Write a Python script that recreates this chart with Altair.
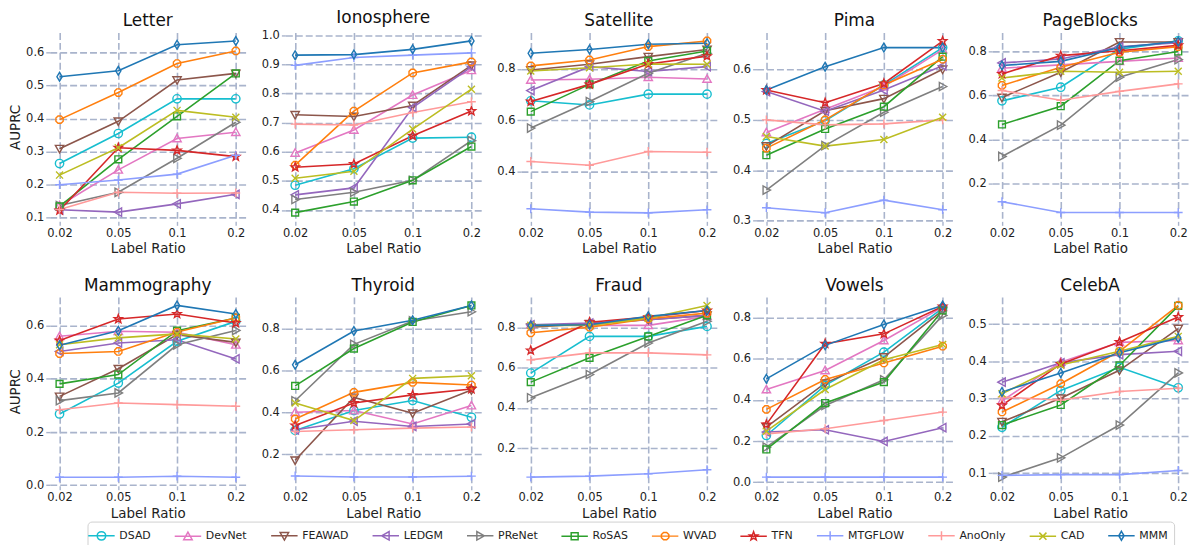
import math
import altair as alt
import pandas as pd

ratios = ["0.02", "0.05", "0.1", "0.2"]
methods = ["DSAD", "DevNet", "FEAWAD", "LEDGM", "PReNet", "RoSAS",
           "WVAD", "TFN", "MTGFLOW", "AnoOnly", "CAD", "MMM"]
colors = ["#17becf", "#e377c2", "#8c564b", "#9467bd", "#7f7f7f", "#2ca02c",
          "#ff7f0e", "#d62728", "#8c9eff", "#ff9a9a", "#bcbd22", "#1f77b4"]
datasets = ["Letter", "Ionosphere", "Satellite", "Pima", "PageBlocks",
            "Mammography", "Thyroid", "Fraud", "Vowels", "CelebA"]

letter = {
    "DSAD": [0.264, 0.355, 0.460, 0.460], "DevNet": [0.137, 0.245, 0.340, 0.359],
    "FEAWAD": [0.309, 0.392, 0.517, 0.537], "LEDGM": [0.124, 0.117, 0.142, 0.171],
    "PReNet": [0.137, 0.177, 0.280, 0.389], "RoSAS": [0.134, 0.277, 0.407, 0.537],
    "WVAD": [0.397, 0.479, 0.567, 0.605], "TFN": [0.122, 0.312, 0.304, 0.285],
    "MTGFLOW": [0.200, 0.214, 0.232, 0.289], "AnoOnly": [0.125, 0.177, 0.174, 0.175],
    "CAD": [0.229, 0.312, 0.425, 0.404], "MMM": [0.527, 0.545, 0.624, 0.635],
}
ionosphere = {
    "DSAD": [0.485, 0.542, 0.647, 0.650], "DevNet": [0.596, 0.675, 0.795, 0.880],
    "FEAWAD": [0.727, 0.721, 0.759, 0.897], "LEDGM": [0.452, 0.476, 0.752, 0.892],
    "PReNet": [0.436, 0.461, 0.502, 0.638], "RoSAS": [0.391, 0.429, 0.502, 0.618],
    "WVAD": [0.554, 0.740, 0.871, 0.909], "TFN": [0.547, 0.558, 0.655, 0.740],
    "MTGFLOW": [0.897, 0.924, 0.932, 0.940], "AnoOnly": [0.695, 0.692, 0.735, 0.772],
    "CAD": [0.509, 0.533, 0.678, 0.815], "MMM": [0.932, 0.934, 0.952, 0.981],
}
satellite = {
    "DSAD": [0.676, 0.660, 0.702, 0.702], "DevNet": [0.757, 0.760, 0.768, 0.761],
    "FEAWAD": [0.796, 0.818, 0.848, 0.876], "LEDGM": [0.716, 0.809, 0.790, 0.809],
    "PReNet": [0.570, 0.673, 0.783, 0.861], "RoSAS": [0.634, 0.740, 0.831, 0.870],
    "WVAD": [0.812, 0.835, 0.887, 0.909], "TFN": [0.673, 0.740, 0.819, 0.850],
    "MTGFLOW": [0.256, 0.243, 0.240, 0.252], "AnoOnly": [0.440, 0.425, 0.479, 0.476],
    "CAD": [0.792, 0.805, 0.819, 0.818], "MMM": [0.861, 0.876, 0.896, 0.900],
}
pima = {
    "DSAD": [0.453, 0.498, 0.569, 0.643], "DevNet": [0.475, 0.521, 0.566, 0.639],
    "FEAWAD": [0.448, 0.518, 0.542, 0.600], "LEDGM": [0.556, 0.517, 0.559, 0.607],
    "PReNet": [0.361, 0.449, 0.515, 0.566], "RoSAS": [0.430, 0.482, 0.526, 0.625],
    "WVAD": [0.444, 0.500, 0.569, 0.620], "TFN": [0.559, 0.534, 0.572, 0.656],
    "MTGFLOW": [0.326, 0.316, 0.341, 0.322], "AnoOnly": [0.500, 0.490, 0.492, 0.500],
    "CAD": [0.467, 0.448, 0.461, 0.505], "MMM": [0.559, 0.605, 0.643, 0.643],
}
pageblocks = {
    "DSAD": [0.576, 0.638, 0.810, 0.848], "DevNet": [0.724, 0.739, 0.755, 0.770],
    "FEAWAD": [0.591, 0.706, 0.843, 0.843], "LEDGM": [0.748, 0.766, 0.821, 0.840],
    "PReNet": [0.324, 0.466, 0.683, 0.763], "RoSAS": [0.469, 0.552, 0.758, 0.800],
    "WVAD": [0.646, 0.728, 0.796, 0.822], "TFN": [0.698, 0.781, 0.803, 0.828],
    "MTGFLOW": [0.119, 0.070, 0.070, 0.070], "AnoOnly": [0.623, 0.579, 0.619, 0.653],
    "CAD": [0.680, 0.710, 0.706, 0.710], "MMM": [0.736, 0.755, 0.818, 0.845],
}
mammography = {
    "DSAD": [0.268, 0.384, 0.541, 0.616], "DevNet": [0.560, 0.579, 0.575, 0.528],
    "FEAWAD": [0.334, 0.438, 0.566, 0.537], "LEDGM": [0.503, 0.535, 0.547, 0.475],
    "PReNet": [0.318, 0.347, 0.528, 0.582], "RoSAS": [0.381, 0.416, 0.581, 0.629],
    "WVAD": [0.495, 0.503, 0.576, 0.629], "TFN": [0.544, 0.625, 0.644, 0.610],
    "MTGFLOW": [0.030, 0.030, 0.034, 0.030], "AnoOnly": [0.284, 0.309, 0.303, 0.297],
    "CAD": [0.528, 0.554, 0.569, 0.550], "MMM": [0.526, 0.581, 0.676, 0.644],
}
thyroid = {
    "DSAD": [0.313, 0.408, 0.456, 0.376], "DevNet": [0.400, 0.408, 0.344, 0.432],
    "FEAWAD": [0.170, 0.471, 0.395, 0.506], "LEDGM": [0.316, 0.357, 0.332, 0.344],
    "PReNet": [0.455, 0.725, 0.837, 0.881], "RoSAS": [0.526, 0.705, 0.832, 0.911],
    "WVAD": [0.368, 0.495, 0.543, 0.530], "TFN": [0.337, 0.444, 0.483, 0.511],
    "MTGFLOW": [0.095, 0.090, 0.090, 0.094], "AnoOnly": [0.308, 0.316, 0.324, 0.329],
    "CAD": [0.444, 0.360, 0.562, 0.575], "MMM": [0.627, 0.789, 0.840, 0.911],
}
fraud = {
    "DSAD": [0.574, 0.757, 0.757, 0.807], "DevNet": [0.815, 0.812, 0.812, 0.857],
    "FEAWAD": [0.803, 0.820, 0.840, 0.862], "LEDGM": [0.815, 0.823, 0.840, 0.862],
    "PReNet": [0.451, 0.567, 0.724, 0.832], "RoSAS": [0.529, 0.650, 0.757, 0.862],
    "WVAD": [0.775, 0.803, 0.845, 0.873], "TFN": [0.687, 0.828, 0.853, 0.886],
    "MTGFLOW": [0.055, 0.060, 0.072, 0.092], "AnoOnly": [0.640, 0.675, 0.675, 0.665],
    "CAD": [0.812, 0.812, 0.848, 0.911], "MMM": [0.812, 0.815, 0.857, 0.886],
}
vowels = {
    "DSAD": [0.227, 0.471, 0.633, 0.847], "DevNet": [0.451, 0.544, 0.690, 0.852],
    "FEAWAD": [0.268, 0.482, 0.609, 0.836], "LEDGM": [0.244, 0.255, 0.198, 0.265],
    "PReNet": [0.170, 0.373, 0.498, 0.812], "RoSAS": [0.159, 0.385, 0.487, 0.836],
    "WVAD": [0.354, 0.500, 0.580, 0.662], "TFN": [0.281, 0.674, 0.722, 0.855],
    "MTGFLOW": [0.024, 0.024, 0.024, 0.024], "AnoOnly": [0.235, 0.260, 0.300, 0.341],
    "CAD": [0.248, 0.451, 0.596, 0.670], "MMM": [0.503, 0.666, 0.768, 0.860],
}
celeba = {
    "DSAD": [0.223, 0.322, 0.384, 0.329], "DevNet": [0.294, 0.398, 0.451, 0.456],
    "FEAWAD": [0.238, 0.301, 0.376, 0.488], "LEDGM": [0.344, 0.396, 0.418, 0.427],
    "PReNet": [0.089, 0.141, 0.229, 0.369], "RoSAS": [0.229, 0.283, 0.389, 0.549],
    "WVAD": [0.264, 0.340, 0.427, 0.550], "TFN": [0.282, 0.393, 0.452, 0.519],
    "MTGFLOW": [0.094, 0.096, 0.096, 0.107], "AnoOnly": [0.304, 0.296, 0.319, 0.328],
    "CAD": [0.313, 0.390, 0.427, 0.467], "MMM": [0.318, 0.369, 0.423, 0.463],
}

panel_data = [letter, ionosphere, satellite, pima, pageblocks,
              mammography, thyroid, fraud, vowels, celeba]

y_domains = [[0.089, 0.661], [0.361, 1.010], [0.207, 0.942], [0.299, 0.673], [0.030, 0.886],
             [-0.002, 0.708], [0.048, 0.952], [0.012, 0.954], [-0.018, 0.902], [0.066, 0.573]]
y_ticks = [[0.1, 0.2, 0.3, 0.4, 0.5, 0.6], [0.4, 0.5, 0.6, 0.7, 0.8, 0.9, 1.0],
           [0.4, 0.6, 0.8], [0.3, 0.4, 0.5, 0.6], [0.2, 0.4, 0.6, 0.8],
           [0.0, 0.2, 0.4, 0.6], [0.2, 0.4, 0.6, 0.8], [0.2, 0.4, 0.6, 0.8],
           [0.0, 0.2, 0.4, 0.6, 0.8], [0.1, 0.2, 0.3, 0.4, 0.5]]

# ---- marker shapes (unit coordinates) ----
def poly(pts, s=1.0):
    return "M" + "L".join(f"{x * s:.3f},{y * s:.3f}" for x, y in pts) + "Z"

def circ(r):
    return f"M{r:.3f},0A{r:.3f},{r:.3f} 0 1,1 {-r:.3f},0A{r:.3f},{r:.3f} 0 1,1 {r:.3f},0Z"

star_pts = [((1.0 if k % 2 == 0 else 0.42) * math.cos(math.radians(-90 + 36 * k)),
             (1.0 if k % 2 == 0 else 0.42) * math.sin(math.radians(-90 + 36 * k))) for k in range(10)]
oct_pts = [(0.9 * math.cos(math.radians(22.5 + 45 * k)),
            0.9 * math.sin(math.radians(22.5 + 45 * k))) for k in range(8)]

def shape_path(m, s):
    if m == "DSAD":
        return circ(0.95 * s)
    if m == "DevNet":
        return poly([(0, -0.95), (0.95, 0.75), (-0.95, 0.75)], s)
    if m == "FEAWAD":
        return poly([(0, 0.95), (0.95, -0.75), (-0.95, -0.75)], s)
    if m == "LEDGM":
        return poly([(-0.95, 0), (0.75, -0.95), (0.75, 0.95)], s)
    if m == "PReNet":
        return poly([(0.95, 0), (-0.75, -0.95), (-0.75, 0.95)], s)
    if m == "RoSAS":
        return poly([(-0.78, -0.78), (0.78, -0.78), (0.78, 0.78), (-0.78, 0.78)], s)
    if m == "WVAD":
        return poly(oct_pts, s)
    if m == "TFN":
        return poly(star_pts, s)
    if m in ("MTGFLOW", "AnoOnly"):
        return f"M{-s},0L{s},0M0,{-s}L0,{s}"
    if m == "CAD":
        a = 0.8 * s
        return f"M{-a},{-a}L{a},{a}M{a},{-a}L{-a},{a}"
    return poly([(0, -1.0), (0.6, 0), (0, 1.0), (-0.6, 0)], s)

main_shapes = [shape_path(m, 1.0) for m in methods]
legend_shapes = ["M-1.9,0L1.9,0" + shape_path(m, 0.64) for m in methods]

FONT = "DejaVu Sans"
PW, PH = 197, 190


def panel(i):
    d = panel_data[i]
    df = pd.DataFrame([
        {"ratio": r, "method": m, "value": v}
        for m in methods for r, v in zip(ratios, d[m])
    ])
    first_col = i % 5 == 0
    x = alt.X("ratio:O", sort=ratios,
              scale=alt.Scale(type="point", padding=1 / 6),
              axis=alt.Axis(title="Label Ratio", labelAngle=0))
    y = alt.Y("value:Q",
              scale=alt.Scale(domain=y_domains[i], nice=False, zero=False),
              axis=alt.Axis(values=y_ticks[i], format=".1f",
                            title="AUPRC" if first_col else None))
    color = alt.Color("method:N", scale=alt.Scale(domain=methods, range=colors), legend=None)
    shape = alt.Shape("method:N", scale=alt.Scale(domain=methods, range=main_shapes), legend=None)
    base = alt.Chart(df)
    lines = base.mark_line(strokeWidth=1.6).encode(x=x, y=y, color=color)
    pts = base.mark_point(filled=False, size=78, strokeWidth=1.4, opacity=1).encode(
        x=x, y=y, color=color, shape=shape)
    return alt.layer(lines, pts).properties(
        width=PW, height=PH, title=alt.TitleParams(text=datasets[i], frame="group"))


row1 = alt.hconcat(*[panel(i) for i in range(5)], spacing=15).resolve_scale(x="independent", y="independent")
row2 = alt.hconcat(*[panel(i) for i in range(5, 10)], spacing=15).resolve_scale(x="independent", y="independent")
rows = alt.vconcat(row1, row2, spacing=22)

leg = alt.Legend(orient="none", legendX=38, legendY=-2, direction="horizontal", columns=12,
                 title=None, symbolSize=196, symbolStrokeWidth=1.5, symbolOpacity=1,
                 labelFont=FONT, labelFontSize=11, labelOffset=10, columnPadding=20, padding=6,
                 strokeColor="#d0d0d0", cornerRadius=4, fillColor="white", labelColor="#222")
legend_df = pd.DataFrame({"method": methods})
legend_chart = alt.Chart(legend_df).mark_point(filled=False, opacity=0).encode(
    color=alt.Color("method:N", scale=alt.Scale(domain=methods, range=colors), legend=leg),
    shape=alt.Shape("method:N", scale=alt.Scale(domain=methods, range=legend_shapes), legend=leg),
).properties(width=1150, height=1)

chart = alt.vconcat(rows, legend_chart, spacing=1).resolve_scale(
    color="independent", shape="independent"
).properties(
    padding={"top": -1, "bottom": 0, "left": 0, "right": 0}
).configure_view(stroke=None).configure_axis(
    domain=False, grid=True, gridColor="#a9b4cc", gridDash=[7, 3], gridWidth=1.6,
    tickColor="#a9b4cc", tickSize=4, tickWidth=1.4, labelFont=FONT, labelFontSize=11.5,
    labelColor="#222", titleFont=FONT, titleFontSize=13.5, titleFontWeight="normal",
    titleColor="#222", labelPadding=2, titlePadding=3,
).configure_title(
    font=FONT, fontSize=17, fontWeight="normal", color="#111", offset=2
)

chart.save("out.html", embed_options={"renderer": "svg", "actions": False})
